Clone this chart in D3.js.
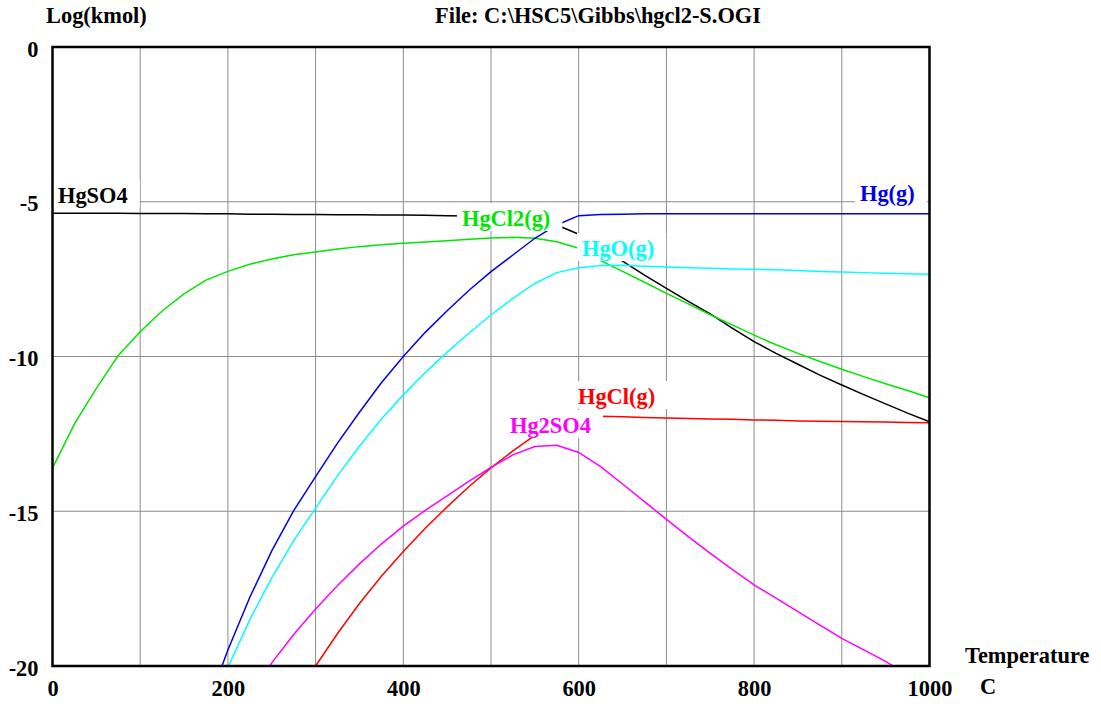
<!DOCTYPE html>
<html>
<head>
<meta charset="utf-8">
<script src="https://cdn.jsdelivr.net/npm/d3@7"></script>
<style>
  body { margin: 0; background: #fff; }
  svg text {
    font-family: "Liberation Serif", "Times New Roman", serif;
    font-weight: bold;
    font-size: 22.4px;
    fill: black;
  }
  .grid line { stroke: #8c8c8c; stroke-width: 1; }
  path.curve { fill: none; stroke-width: 1.5; }
  rect.frame { fill: none; stroke: black; stroke-width: 2.5; }
  rect.lbox { fill: white; }
</style>
</head>
<body>
<svg id="chart" width="1101" height="704"></svg>
<script>
  // temperature nodes, C
  var temps = [0, 25, 50, 75, 100, 125, 150, 175, 200, 225, 250, 275, 300, 325, 350, 375,
    400, 425, 450, 475, 500, 525, 550, 575, 600, 625, 650, 675, 700, 725, 750, 775,
    800, 825, 850, 875, 900, 925, 950, 975, 1000];

  // log(kmol) per species, null = not present
  var hgso4 = [-5.37, -5.37, -5.37, -5.37, -5.38, -5.38, -5.38, -5.39, -5.39, -5.40, -5.40, -5.41, -5.41, -5.42, -5.42, -5.43,
    -5.43, -5.44, -5.45, -5.46, -5.48, -5.52, -5.60, -5.75, -6.05, -6.45, -6.92, -7.37, -7.80, -8.22, -8.62, -9.08,
    -9.52, -9.90, -10.25, -10.60, -10.92, -11.23, -11.53, -11.83, -12.11];
  var hgcl2g = [-13.61, -12.18, -11.03, -9.97, -9.20, -8.53, -7.98, -7.53, -7.25, -7.02, -6.85, -6.71, -6.62, -6.53, -6.45, -6.39,
    -6.34, -6.30, -6.26, -6.21, -6.17, -6.15, -6.18, -6.29, -6.50, -6.90, -7.25, -7.60, -7.96, -8.30, -8.65, -8.98,
    -9.31, -9.62, -9.90, -10.16, -10.41, -10.65, -10.88, -11.10, -11.33];
  var hgg = [null, null, null, null, null, null, null, -21.4, -19.48, -17.78, -16.28, -14.98, -13.88, -12.80, -11.80, -10.85,
    -10.00, -9.22, -8.52, -7.86, -7.26, -6.72, -6.18, -5.75, -5.45, -5.41, -5.40, -5.39, -5.39, -5.39, -5.39, -5.39,
    -5.39, -5.39, -5.39, -5.39, -5.39, -5.39, -5.39, -5.39, -5.39];
  var hgog = [null, null, null, null, null, null, null, -21.8, -20.05, -18.50, -17.15, -15.95, -14.90, -13.85, -12.90, -12.02,
    -11.24, -10.52, -9.86, -9.24, -8.66, -8.12, -7.64, -7.29, -7.13, -7.06, -7.05, -7.08, -7.11, -7.13, -7.15, -7.17,
    -7.18, -7.20, -7.22, -7.25, -7.27, -7.29, -7.31, -7.33, -7.34];
  var hgclg = [null, null, null, null, null, null, null, null, null, null, null, null, -20.0, -18.95, -17.98, -17.10,
    -16.30, -15.55, -14.86, -14.20, -13.60, -13.05, -12.55, -12.30, -12.10, -11.93, -11.95, -11.97, -11.99, -12.00, -12.02, -12.03,
    -12.05, -12.06, -12.08, -12.09, -12.10, -12.11, -12.12, -12.13, -12.14];
  var hg2so4 = [null, null, null, null, null, null, null, null, null, -21.0, -19.90, -18.98, -18.16, -17.40, -16.70, -16.06,
    -15.48, -14.97, -14.50, -14.03, -13.58, -13.18, -12.91, -12.87, -13.10, -13.56, -14.12, -14.69, -15.26, -15.82, -16.36, -16.88,
    -17.38, -17.81, -18.24, -18.68, -19.11, -19.48, -19.85, -20.30, null];

  var xTicks = [0, 200, 400, 600, 800, 1000];
  var xGrid = [100, 200, 300, 400, 500, 600, 700, 800, 900];
  var yTicks = [0, -5, -10, -15, -20];
  var yGrid = [-5, -10, -15];

  var series = [
    { name: 'HgSO4', color: '#000000', values: hgso4 },
    { name: 'HgCl2(g)', color: '#00e600', values: hgcl2g },
    { name: 'Hg(g)', color: '#0000ee', values: hgg },
    { name: 'HgO(g)', color: '#00ffff', values: hgog },
    { name: 'HgCl(g)', color: '#ff0000', values: hgclg },
    { name: 'Hg2SO4', color: '#ff00ff', values: hg2so4 }
  ];
  // where each curve label sits (left x, baseline y)
  var labelPos = {
    'HgSO4': [58, 203],
    'HgCl2(g)': [462, 226],
    'Hg(g)': [860, 201],
    'HgO(g)': [582, 256],
    'HgCl(g)': [578, 404],
    'Hg2SO4': [510, 433]
  };

  var svg = d3.select('#chart');
  var x = d3.scaleLinear().domain([0, 1000]).range([52.5, 929.5]);
  var y = d3.scaleLinear().domain([-20, 0]).range([666, 47]);

  svg.append('clipPath').attr('id', 'plotclip')
    .append('rect')
      .attr('x', x(0)).attr('y', y(0))
      .attr('width', x(1000) - x(0)).attr('height', y(-20) - y(0));

  // grid
  var grid = svg.append('g').attr('class', 'grid');
  grid.selectAll('line.v')
      .data(xGrid)
    .enter().append('line')
      .attr('class', 'v')
      .attr('x1', function(d) { return x(d); })
      .attr('x2', function(d) { return x(d); })
      .attr('y1', y(0))
      .attr('y2', y(-20));
  grid.selectAll('line.h')
      .data(yGrid)
    .enter().append('line')
      .attr('class', 'h')
      .attr('x1', x(0))
      .attr('x2', x(1000))
      .attr('y1', function(d) { return y(d); })
      .attr('y2', function(d) { return y(d); });

  // curves
  var line = d3.line()
    .defined(function(d) { return d[1] !== null; })
    .x(function(d) { return x(d[0]); })
    .y(function(d) { return y(d[1]); });

  svg.append('g').attr('clip-path', 'url(#plotclip)')
    .selectAll('path')
      .data(series)
    .enter().append('path')
      .attr('class', 'curve')
      .attr('stroke', function(d) { return d.color; })
      .attr('d', function(d) {
        return line(temps.map(function(t, i) { return [t, d.values[i]]; }));
      });

  // labels with white boxes knocking out what lies under them
  var labels = svg.append('g').selectAll('g')
      .data(series)
    .enter().append('g');
  labels.append('text')
    .attr('x', function(d) { return labelPos[d.name][0]; })
    .attr('y', function(d) { return labelPos[d.name][1]; })
    .style('fill', function(d) { return d.color; })
    .text(function(d) { return d.name; });
  labels.each(function(d) {
    var bb = d3.select(this).select('text').node().getBBox();
    d3.select(this).insert('rect', 'text')
      .attr('class', 'lbox')
      .attr('x', bb.x - 5)
      .attr('y', labelPos[d.name][1] - 23)
      .attr('width', bb.width + 17)
      .attr('height', 28);
  });

  // frame
  svg.append('rect')
    .attr('class', 'frame')
    .attr('x', x(0)).attr('y', y(0))
    .attr('width', x(1000) - x(0)).attr('height', y(-20) - y(0));

  // axes (labels only)
  var plain = function(d) { return String(d); };
  var xAxis = svg.append('g')
    .attr('transform', 'translate(0,' + y(-20) + ')')
    .call(d3.axisBottom(x).tickValues(xTicks).tickSize(0).tickFormat(plain));
  xAxis.select('.domain').remove();
  xAxis.selectAll('text').attr('y', 30).attr('dy', null);

  var yAxis = svg.append('g')
    .attr('transform', 'translate(' + x(0) + ',0)')
    .call(d3.axisLeft(y).tickValues(yTicks).tickSize(0).tickFormat(plain));
  yAxis.select('.domain').remove();
  yAxis.selectAll('text').attr('x', -14).attr('dy', null).attr('y', 9);
  svg.selectAll('.tick').attr('font-size', null).attr('font-family', null);
  svg.selectAll('.tick text').style('fill', 'black');
  xAxis.attr('font-size', null).attr('font-family', null);
  yAxis.attr('font-size', null).attr('font-family', null);

  // titles
  svg.append('text').attr('x', 46).attr('y', 23).text('Log(kmol)');
  svg.append('text').attr('x', 435).attr('y', 23).text('File: C:\\HSC5\\Gibbs\\hgcl2-S.OGI');
  svg.append('text').attr('x', 965).attr('y', 663).text('Temperature');
  svg.append('text').attr('x', 980).attr('y', 694).text('C');
</script>
</body>
</html>
